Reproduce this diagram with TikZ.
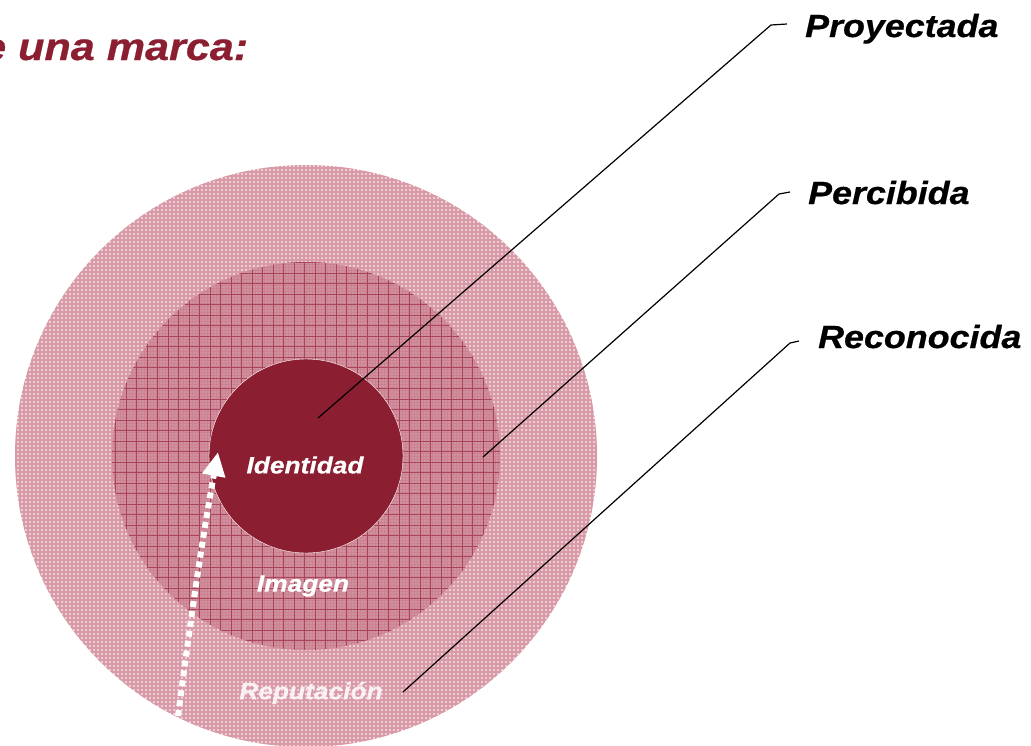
\documentclass[tikz,border=0pt]{standalone}
\usepackage{fontspec}
\usepackage{tikz}
\usetikzlibrary{calc, arrows.meta}
\newfontfamily\wideface{Liberation Sans}[FakeStretch=1.12, FakeBold=0.6]
\definecolor{vino}{RGB}{139,30,48}
\definecolor{rosaA}{RGB}{238,206,213}
\definecolor{rosaB}{RGB}{200,112,132}
\definecolor{rosaC}{RGB}{208,146,158}
\definecolor{rosaD}{RGB}{160,52,76}

\begin{document}
\begin{tikzpicture}[x=1pt, y=-1pt,
    tag/.style={font=\wideface\bfseries\itshape\fontsize{32}{32}\selectfont, inner sep=0pt, anchor=base west},
    ring/.style={font=\wideface\bfseries\itshape\fontsize{23.5}{23.5}\selectfont, text=white, inner sep=0pt},
    leader/.style={black, line width=1.2pt}]
    \useasboundingbox (0,0) rectangle (1031,745);
    \coordinate (O) at (306,456);

    % anillos
    \fill[rosaA] (O) circle (291);
    \begin{scope}
        \clip (O) circle (291);
        \draw[rosaB, line width=1.3pt, opacity=.55, step=4pt] (10,160) grid (610,760);
    \end{scope}
    \fill[rosaC] (O) circle (194);
    \begin{scope}
        \clip (O) circle (194);
        \draw[rosaB, line width=.6pt, opacity=.45, step=3pt] (110,260) grid (505,655);
        \draw[rosaD, line width=1pt, opacity=.8, step=10.5pt] (110,260) grid (505,655);
    \end{scope}
    \filldraw[vino, draw=white, line width=.4pt] (O) circle (97);

    \node[ring] (ide) at (305,465) {Identidad};
    \node[ring] (ima) at (303,586) {Imagen};
    \node[ring, text opacity=.85] (rep) at (311,693) {Reputación};

    \draw[white, line width=6pt, dash pattern=on 6pt off 4pt, -{Triangle[width=22pt, length=24pt]}]
        (178,716) .. controls (192,610) and (202,540) .. (218,452);

    \node[font=\wideface\bfseries\itshape\fontsize{38.5}{38.5}\selectfont, text=vino, inner sep=0pt, anchor=base west] (tit) at (-18,60) {e una marca:};

    \node[tag] (proy) at (805,37) {Proyectada};
    \node[tag] (perc) at (808,204) {Percibida};
    \node[tag] (reco) at (818,348) {Reconocida};

    \coordinate (sP) at (318,418);
    \coordinate (bP) at (771,25);
    \coordinate (sQ) at (483,457);
    \coordinate (bQ) at (779,194);
    \coordinate (sR) at (403,692);
    \coordinate (bR) at (790,343);
    \draw[leader] (sP) -- (bP) -- ([shift={(-18,-13)}]proy.base west);
    \draw[leader] (sQ) -- (bQ) -- ([shift={(-18,-12)}]perc.base west);
    \draw[leader] (sR) -- (bR) -- ([shift={(-19,-7)}]reco.base west);
\end{tikzpicture}
\end{document}
